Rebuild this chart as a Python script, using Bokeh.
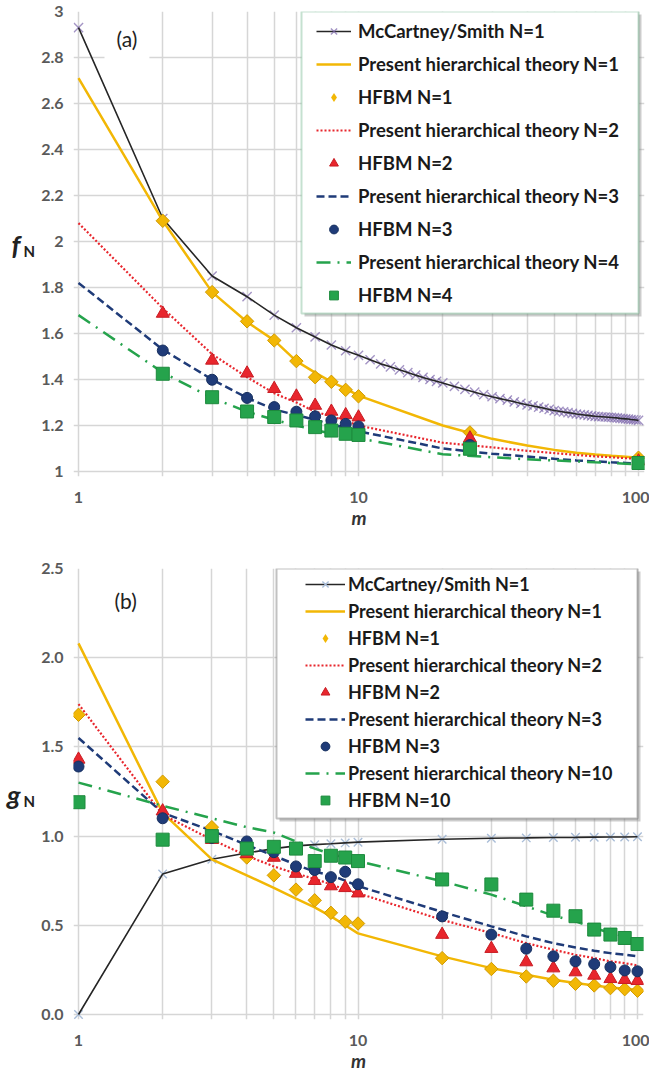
from bokeh.plotting import figure
from bokeh.models import FixedTicker, Label, Legend, LegendItem, BoxAnnotation, Range1d, LinearAxis
from bokeh.layouts import column
from bokeh.embed import file_html
from bokeh.resources import INLINE

# ---------------- data ----------------
m_line = [1, 2, 3, 4, 5, 6, 7, 8, 9, 10, 20, 30, 40, 50, 60, 70, 80, 90, 100]

# panel (a)
m_mcs_a = list(range(1, 21)) + list(range(22, 101, 2))
f_mcs = [2.93, 2.10, 1.85, 1.76, 1.68, 1.625, 1.585, 1.55, 1.525, 1.505,
         1.486, 1.468, 1.455, 1.442, 1.430, 1.419, 1.409, 1.400, 1.392, 1.385,
         1.370, 1.357, 1.345, 1.334, 1.325, 1.317, 1.310, 1.303, 1.296, 1.290,
         1.285, 1.280, 1.275, 1.270, 1.265, 1.262, 1.259, 1.256, 1.253, 1.250,
         1.248, 1.246, 1.244, 1.242, 1.240, 1.239, 1.238, 1.237, 1.236, 1.235,
         1.234, 1.233, 1.231, 1.230, 1.229, 1.228, 1.226, 1.225, 1.224, 1.222]
f_th1 = [2.71, 2.09, 1.78, 1.65, 1.57, 1.48, 1.43, 1.39, 1.36, 1.33, 1.20, 1.142, 1.113, 1.094, 1.082, 1.074, 1.068, 1.064, 1.06]
f_th2 = [2.08, 1.71, 1.51, 1.41, 1.34, 1.30, 1.26, 1.24, 1.22, 1.20, 1.125, 1.105, 1.09, 1.08, 1.072, 1.066, 1.062, 1.058, 1.055]
f_th3 = [1.82, 1.53, 1.40, 1.32, 1.27, 1.245, 1.225, 1.205, 1.19, 1.175, 1.10, 1.077, 1.065, 1.055, 1.048, 1.044, 1.04, 1.037, 1.034]
f_th4 = [1.68, 1.43, 1.32, 1.26, 1.225, 1.20, 1.18, 1.165, 1.155, 1.145, 1.075, 1.062, 1.053, 1.048, 1.044, 1.04, 1.037, 1.034, 1.031]
m_hfbm_a = [2, 3, 4, 5, 6, 7, 8, 9, 10, 25, 100]
f_hfbm1 = [2.09, 1.78, 1.653, 1.57, 1.48, 1.41, 1.39, 1.355, 1.327, 1.17, 1.06]
f_hfbm2 = [1.687, 1.483, 1.427, 1.36, 1.327, 1.287, 1.261, 1.246, 1.236, 1.145, 1.045]
f_hfbm3 = [1.526, 1.399, 1.32, 1.28, 1.26, 1.24, 1.222, 1.207, 1.196, 1.115, 1.04]
f_hfbm4 = [1.425, 1.323, 1.261, 1.237, 1.222, 1.193, 1.178, 1.164, 1.159, 1.099, 1.037]

# panel (b)
g_mcs = [0.0, 0.787, 0.87, 0.905, 0.93, 0.945, 0.952, 0.957, 0.962, 0.966, 0.982, 0.988, 0.99, 0.992, 0.993, 0.994, 0.995, 0.995, 0.996]
g_th1 = [2.08, 1.13, 0.87, 0.78, 0.71, 0.65, 0.60, 0.55, 0.50, 0.455, 0.326, 0.26, 0.223, 0.195, 0.176, 0.163, 0.152, 0.144, 0.138]
g_th2 = [1.74, 1.12, 0.98, 0.89, 0.83, 0.79, 0.76, 0.73, 0.70, 0.68, 0.53, 0.457, 0.40, 0.363, 0.335, 0.316, 0.298, 0.288, 0.275]
g_th3 = [1.55, 1.13, 1.03, 0.95, 0.89, 0.84, 0.80, 0.78, 0.75, 0.72, 0.575, 0.494, 0.438, 0.40, 0.376, 0.357, 0.344, 0.335, 0.326]
g_th10 = [1.30, 1.17, 1.10, 1.05, 1.02, 0.97, 0.93, 0.90, 0.88, 0.86, 0.747, 0.672, 0.607, 0.554, 0.522, 0.485, 0.457, 0.438, 0.410]
g_hfbm1 = [1.68, 1.305, 1.05, 0.88, 0.78, 0.70, 0.64, 0.57, 0.52, 0.51, 0.316, 0.255, 0.213, 0.189, 0.172, 0.163, 0.148, 0.142, 0.133]
g_hfbm2 = [1.43, 1.14, 0.98, 0.90, 0.88, 0.79, 0.75, 0.72, 0.71, 0.68, 0.448, 0.369, 0.294, 0.26, 0.238, 0.219, 0.20, 0.195, 0.189]
g_hfbm3 = [1.39, 1.10, 0.99, 0.97, 0.91, 0.83, 0.81, 0.77, 0.80, 0.73, 0.55, 0.448, 0.369, 0.326, 0.298, 0.283, 0.266, 0.247, 0.242]
g_hfbm10 = [1.19, 0.98, 1.00, 0.93, 0.94, 0.93, 0.86, 0.89, 0.88, 0.86, 0.757, 0.729, 0.644, 0.582, 0.551, 0.476, 0.448, 0.429, 0.395]

x_major = [1, 10, 100]
x_minor = [2, 3, 4, 5, 6, 7, 8, 9, 20, 30, 40, 50, 60, 70, 80, 90]
x_labels = ["1", "10", "100"]
ya_ticks = [1, 1.2, 1.4, 1.6, 1.8, 2, 2.2, 2.4, 2.6, 2.8, 3]
ya_labels = ["1", "1.2", "1.4", "1.6", "1.8", "2", "2.2", "2.4", "2.6", "2.8", "3"]
yb_ticks = [0, 0.5, 1, 1.5, 2, 2.5]
yb_labels = ["0.0", "0.5", "1.0", "1.5", "2.0", "2.5"]

# ---------------- style ----------------
FONT = "Lato"
GRID = "#d6d6d6"
TICKC = "#5a5a5a"
YEL = "#f2b705"
RED = "#e8262d"
NAVY = "#1f3b78"
GREEN = "#25a34c"
BLACK = "#262626"
TXT = "#222222"


def make_fig(fw, fh, left, right, top, bottom, xr, yr, yticks, ylabels, ylab):
    p = figure(x_axis_type="log", frame_width=fw, frame_height=fh,
               x_range=Range1d(*xr), y_range=Range1d(*yr),
               output_backend="svg", toolbar_location=None,
               min_border_left=left, min_border_right=right,
               min_border_top=top, min_border_bottom=bottom)
    p.outline_line_color = None
    p.background_fill_color = "white"
    p.border_fill_color = "white"
    xt = FixedTicker(ticks=x_major, minor_ticks=x_minor)
    yt = FixedTicker(ticks=yticks, minor_ticks=[])
    p.xaxis.ticker = xt
    p.xgrid.ticker = xt
    p.yaxis.ticker = yt
    p.ygrid.ticker = yt
    p.xaxis.major_label_overrides = dict(zip(x_major, x_labels))
    p.yaxis.major_label_overrides = dict(zip(yticks, ylabels))
    for ax in (p.xaxis, p.yaxis):
        # the grid lines run a few pixels past the axes and act as tick marks
        ax.axis_line_color = None
        ax.major_tick_line_color = None
        ax.minor_tick_line_color = None
        ax.major_tick_in = 0
        ax.major_tick_out = 0
        ax.minor_tick_in = 0
        ax.minor_tick_out = 0
        ax.major_label_text_font = FONT
        ax.major_label_text_font_style = "bold"
        ax.major_label_text_font_size = "16px"
        ax.major_label_text_color = TICKC
    p.xaxis.major_label_standoff = 15
    p.yaxis.major_label_standoff = 10
    p.xaxis.axis_label = "m"
    p.xaxis.axis_label_text_font = FONT
    p.xaxis.axis_label_text_font_style = "bold italic"
    p.xaxis.axis_label_text_font_size = "19px"
    p.xaxis.axis_label_text_color = "#333333"
    p.xaxis.axis_label_standoff = 0
    # y title: subscript "N" (second line, so it sits lower) on the inner axis,
    # "f"/"g" on an outer blank axis
    p.yaxis.axis_label = "\u00a0\nN"
    p.yaxis.axis_label_orientation = "horizontal"
    p.yaxis.axis_label_text_font = FONT
    p.yaxis.axis_label_text_font_style = "bold"
    p.yaxis.axis_label_text_font_size = "15px"
    p.yaxis.axis_label_text_line_height = 0.75
    p.yaxis.axis_label_text_color = TXT
    p.yaxis.axis_label_standoff = 3
    outer = LinearAxis(ticker=FixedTicker(ticks=[]), axis_label=ylab,
                       axis_label_orientation="horizontal",
                       axis_line_color=None, major_tick_out=0, minor_tick_out=0,
                       major_label_text_font_size="0px", axis_label_standoff=0,
                       axis_label_text_font=FONT, axis_label_text_font_style="bold italic",
                       axis_label_text_font_size="27px", axis_label_text_color=TXT)
    p.add_layout(outer, "left")
    p.xgrid.grid_line_color = GRID
    p.xgrid.grid_line_width = 1.5
    p.xgrid.minor_grid_line_color = GRID
    p.xgrid.minor_grid_line_width = 1.5
    p.ygrid.grid_line_color = GRID
    p.ygrid.grid_line_width = 1.5
    return p


def screen_box(l, r, t, b, **kw):
    return BoxAnnotation(left=l, right=r, top=t, bottom=b,
                         left_units="screen", right_units="screen",
                         top_units="screen", bottom_units="screen", **kw)


def add_series(p, mc_m, mc_v, cross_color, cross_alpha, cross_size, th, hf_m, hf, last_label):
    cr = p.scatter(mc_m, mc_v, marker="x", size=cross_size, line_color=cross_color,
                   line_alpha=cross_alpha, line_width=1.4)
    ml = p.line(mc_m, mc_v, line_color=BLACK, line_width=1.6)
    l1 = p.line(m_line, th[0], line_color=YEL, line_width=2.5)
    l2 = p.line(m_line, th[1], line_color=RED, line_width=2.2, line_dash="2 2")
    l3 = p.line(m_line, th[2], line_color=NAVY, line_width=2.5, line_dash="8 4")
    l4 = p.line(m_line, th[3], line_color=GREEN, line_width=2.5, line_dash="14 7 2 7")
    p.scatter(hf_m, hf[0], marker="square", angle=0.785398, size=9.5,
              fill_color=YEL, line_color="#d19a00", line_width=1)
    # same points, vanishing size: only provides the diamond swatch for the legend
    d_leg = p.scatter(hf_m, hf[0], marker="diamond", size=0.01,
                      fill_color=YEL, line_color="#d19a00", line_width=0.01)
    s2 = p.scatter(hf_m, hf[1], marker="triangle", size=13,
                   fill_color=RED, line_color="#c81b22", line_width=1)
    s3 = p.scatter(hf_m, hf[2], marker="circle", size=11,
                   fill_color=NAVY, line_color="#17305f", line_width=1)
    s4 = p.scatter(hf_m, hf[3], marker="square", size=13,
                   fill_color=GREEN, line_color="#1d8a3d", line_width=1)
    items = [
        LegendItem(label="McCartney/Smith N=1", renderers=[ml, cr]),
        LegendItem(label="Present hierarchical theory N=1", renderers=[l1]),
        LegendItem(label="HFBM N=1", renderers=[d_leg]),
        LegendItem(label="Present hierarchical theory N=2", renderers=[l2]),
        LegendItem(label="HFBM N=2", renderers=[s2]),
        LegendItem(label="Present hierarchical theory N=3", renderers=[l3]),
        LegendItem(label="HFBM N=3", renderers=[s3]),
        LegendItem(label="Present hierarchical theory N=%s" % last_label, renderers=[l4]),
        LegendItem(label="HFBM N=%s" % last_label, renderers=[s4]),
    ]
    return items


def make_legend(items, loc, spacing, gw, standoff, fsize):
    return Legend(items=items, location=loc, padding=0, margin=0, spacing=spacing,
                  glyph_width=gw, glyph_height=22, label_height=22,
                  label_standoff=standoff, label_text_font=FONT,
                  label_text_font_style="bold", label_text_font_size=fsize,
                  label_text_color="#1a1a1a", border_line_alpha=0,
                  background_fill_alpha=0)


# ---------------- panel (a) ----------------
pa = make_fig(571, 465, 72, 6, 11, 54, (0.9597, 105.06), (0.9783, 3),
              ya_ticks, ya_labels, "f")
items_a = add_series(pa, m_mcs_a, f_mcs, "#7e68ad", 0.7, 13,
                     [f_th1, f_th2, f_th3, f_th4], m_hfbm_a,
                     [f_hfbm1, f_hfbm2, f_hfbm3, f_hfbm4], "4")
pa.add_layout(screen_box(231, 568, 462, 160, fill_color="#8f8f8f", fill_alpha=0.45, line_alpha=0))
pa.add_layout(screen_box(228, 565, 465, 163, fill_color="white", fill_alpha=1,
                         line_color="#3f9a62", line_width=2))
pa.add_layout(make_legend(items_a, (243, 170), 11, 35, 7, "18.5px"))
pa.add_layout(Label(x=31, y=438, x_units="screen", y_units="screen", text="(a)",
                    text_font=FONT, text_font_size="21px", text_color=TXT,
                    text_baseline="middle", background_fill_color="white", padding=12))

# ---------------- panel (b) ----------------
pb = make_fig(570, 451, 73, 6, 37, 58, (0.9596, 105.07), (-0.028, 2.5),
              yb_ticks, yb_labels, "g")
items_b = add_series(pb, m_line, g_mcs, "#a9bdd8", 1.0, 12,
                     [g_th1, g_th2, g_th3, g_th10], m_line,
                     [g_hfbm1, g_hfbm2, g_hfbm3, g_hfbm10], "10")
pb.add_layout(screen_box(206, 567, 448, 198, fill_color="#8f8f8f", fill_alpha=0.45, line_alpha=0))
pb.add_layout(screen_box(203, 564, 451, 201, fill_color="white", fill_alpha=1,
                         line_color="#333333", line_width=2))
pb.add_layout(make_legend(items_b, (232, 208), 5, 40, 3, "18px"))
pb.add_layout(Label(x=41, y=419, x_units="screen", y_units="screen", text="(b)",
                    text_font=FONT, text_font_size="21px", text_color=TXT,
                    text_baseline="middle"))

layout = column(pa, pb, spacing=0)
open("out.html", "w").write(file_html(layout, INLINE))
